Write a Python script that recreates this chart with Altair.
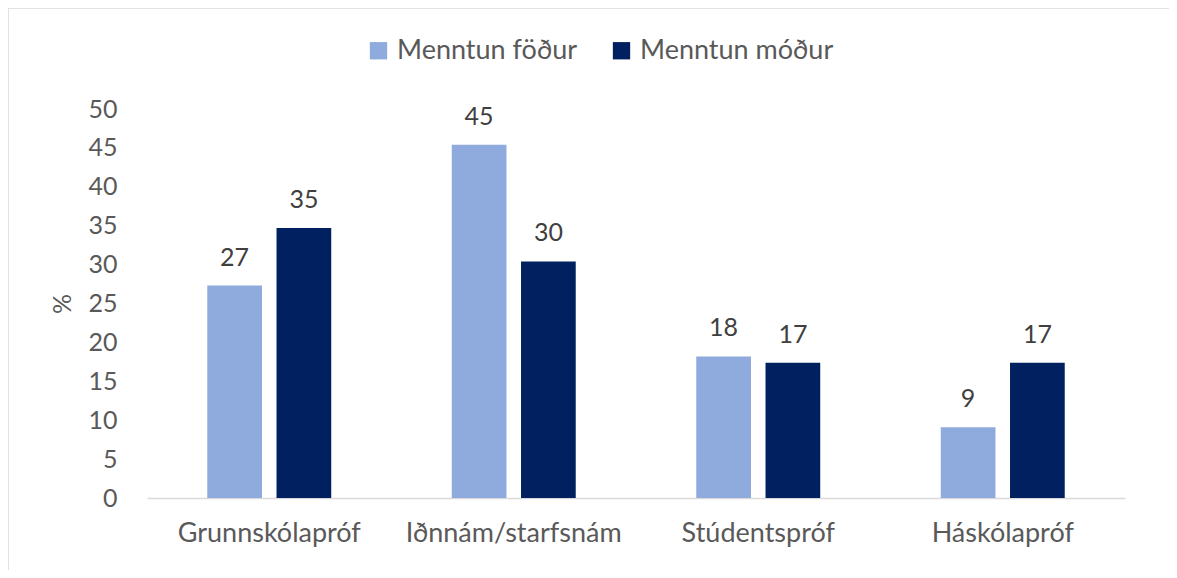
import altair as alt
import pandas as pd

categories = ["Grunnskólapróf", "Iðnnám/starfsnám", "Stúdentspróf", "Háskólapróf"]
series = ["Menntun föður", "Menntun móður"]
fathers = [27.3, 45.4, 18.2, 9.1]
mothers = [34.7, 30.4, 17.4, 17.4]
colors = ["#8FAADC", "#002060"]

rows = []
for c, f, m in zip(categories, fathers, mothers):
    rows.append({"cat": c, "series": series[0], "value": f})
    rows.append({"cat": c, "series": series[1], "value": m})
df = pd.DataFrame(rows)

FONT = "Lato"
W, H = 978, 389

x = alt.X("cat:N", sort=categories,
          scale=alt.Scale(paddingInner=0.493, paddingOuter=0.2465),
          axis=alt.Axis(title=None, labelAngle=0, labelFontSize=27, labelColor="#595959",
                        labelFont=FONT, labelPadding=22, ticks=False, labelLimit=0,
                        domainColor="#D9D9D9", domainWidth=1.5))
xo = alt.XOffset("series:N", sort=series, scale=alt.Scale(paddingInner=0.21, paddingOuter=0))
y = alt.Y("value:Q", scale=alt.Scale(domain=[0, 50], nice=False),
          axis=alt.Axis(title="%", values=list(range(0, 51, 5)), grid=False, domain=False,
                        ticks=False, labelFontSize=25, labelColor="#595959", labelFont=FONT,
                        labelPadding=30, titleFont=FONT, titleFontSize=25,
                        titleColor="#595959", titleFontWeight="normal", titlePadding=12))

bars = alt.Chart(df).mark_bar().encode(
    x=x, xOffset=xo, y=y,
    color=alt.Color("series:N", sort=series,
                    scale=alt.Scale(domain=series, range=colors),
                    legend=alt.Legend(title=None, orient="none", direction="horizontal",
                                      legendX=218, legendY=-72, symbolType="square",
                                      symbolSize=300, symbolStrokeWidth=0, labelLimit=0,
                                      labelFontSize=27, labelFont=FONT, labelColor="#595959",
                                      columnPadding=30, labelOffset=5, padding=0)),
)

labels = alt.Chart(df).mark_text(baseline="bottom", dy=-15, fontSize=25, font=FONT,
                                 color="#404040").encode(
    x=x, xOffset=xo, y=y, text=alt.Text("value:Q", format=".0f"))

border = alt.Chart(pd.DataFrame({"a": [0]})).mark_rect(
    fill=None, stroke="#D9D9D9", strokeWidth=1.5).encode(
    x=alt.value(-139), x2=alt.value(W + 120), y=alt.value(-101), y2=alt.value(H + 120))

chart = alt.layer(border, bars, labels).properties(
    width=W, height=H,
    autosize=alt.AutoSizeParams(type="none"),
    padding={"left": 139, "top": 101, "right": 44, "bottom": 72},
).configure_view(stroke=None)

chart.save("out.html", embed_options={"renderer": "svg", "actions": False})
